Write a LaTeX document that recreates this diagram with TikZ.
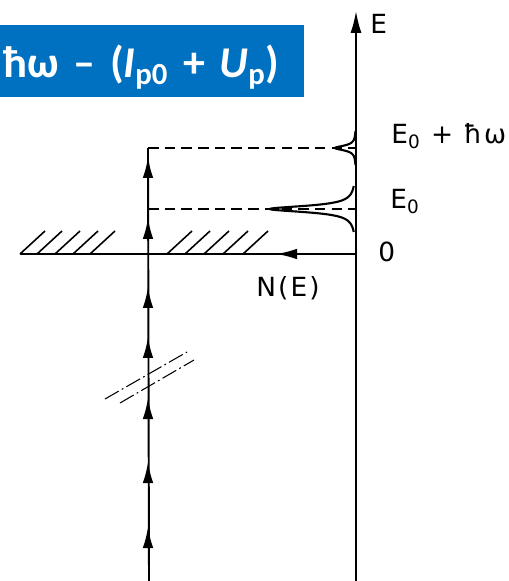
\documentclass[tikz,border=0pt]{standalone}
\usepackage{fontspec}
\setmainfont{DejaVu Sans}
\newfontfamily\titlefont{Carlito}
\newfontfamily\labelfont[LetterSpace=8]{DejaVu Sans}
\definecolor{titleblue}{RGB}{0, 112, 192}
\usetikzlibrary{arrows.meta, calc}
\tikzset{
    axisline/.style={line width=1.1pt, black},
    axisarrow/.style={axisline, -{Latex[length=4.4mm, width=2.2mm]}},
    uparrow/.style={axisline, -{Latex[length=4.2mm, width=2.1mm]}},
    levelline/.style={line width=0.8pt, dash pattern=on 6pt off 3.5pt},
    hatch/.style={line width=0.9pt},
    breakline/.style={line width=0.6pt, dash pattern=on 9pt off 2pt on 1pt off 2pt},
    peak/.style={line width=1.2pt},
    label/.style={font=\labelfont\fontsize{15}{17}\selectfont, inner sep=0pt},
    titlebox/.style={fill=titleblue, text=white, font=\titlefont\bfseries\fontsize{25}{30}\selectfont,
        anchor=west, minimum height=1.44cm, inner xsep=0.06cm, text width=5.96cm, align=left,
        text height=0.66cm, text depth=0cm},
}

\begin{document}
\begin{tikzpicture}[x=0.02cm, y=-0.02cm]
    \useasboundingbox (0,0) rectangle (509,581);

    % === title box ===
    \node[titlebox] (title) at (0,61) {ħω – (\textit{I}\textsubscript{p0} + \textit{U}\textsubscript{p})};

    % === energy axis ===
    \coordinate (axbot) at (356,581);
    \coordinate (axtop) at (356,11);
    \coordinate (zero) at (356,254);
    \coordinate (lvlA) at (356,209);
    \coordinate (lvlB) at (356,148);
    \draw[axisarrow] (axbot) -- (axtop);
    \node[label, anchor=west] (elabel) at (370,24) {E};
    \node[label, anchor=west] (zlabel) at (378,252) {0};
    \node[label, anchor=west] (e0label) at (390,202) {E\textsubscript{0}};
    \node[label, anchor=west] (e1label) at (391,136) {E\textsubscript{0} + ħω};

    % zero line with hatching
    \coordinate (zleft) at (20,254);
    \coordinate (ztip) at (276,254);
    \draw[axisline] (zleft) -- (zero);
    \draw[uparrow] (zero) -- (ztip);
    \node[label] (nlabel) at (288,288) {N(E)};
    \foreach \hx in {20,37,55,73,90,167,185,204,223,243}
        \draw[hatch] (\hx,254) -- ++(25,-23);

    % densities of states
    \draw[peak] plot[variable=\t, domain=186:232, samples=301] ({356-86/(1+((\t-209)/3.8)^2)},\t);
    \draw[peak] plot[variable=\t, domain=131:165, samples=201] ({356-21/(1+((\t-148)/2.8)^2)},\t);

    % === photon ladder ===
    \coordinate (lbot) at (149,581);
    \coordinate (ltop) at (148,148);
    \coordinate (lmid) at (148,209);
    \draw[axisline] (lbot) -- (ltop);
    \foreach \ty in {157,218,287,337,398,462,527}
        \draw[uparrow] (148,\ty+20) -- (148,\ty);
    \draw[levelline] (ltop) -- (lvlB);
    \draw[levelline] (lmid) -- (lvlA);

    % break mark
    \draw[breakline] (105,399) -- (187,352);
    \draw[breakline] (120,403) -- (194,360);
\end{tikzpicture}
\end{document}
